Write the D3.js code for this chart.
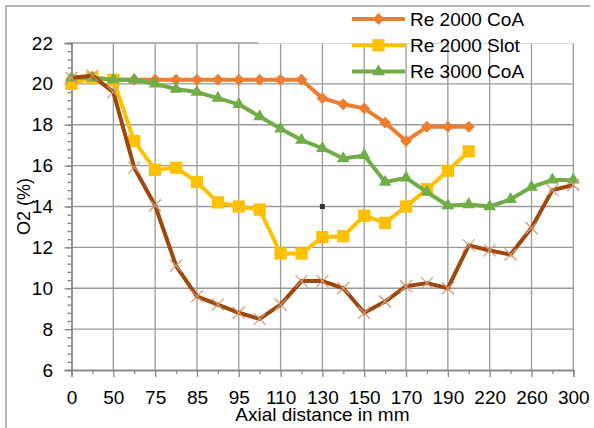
<!DOCTYPE html>
<html>
<head>
<meta charset="utf-8">
<script src="https://cdn.jsdelivr.net/npm/d3@7"></script>
<style>
  html, body { margin: 0; padding: 0; background: #fff; }
  svg text { font-family: "Liberation Sans", Arial, sans-serif; fill: #000; }
</style>
</head>
<body>
<main></main>
<script>
// axial positions (mm) - only every second one is labelled on the axis
var categories = ['0', '25', '50', '65', '75', '80', '85', '90', '95', '100', '110', '120', '130',
                  '140', '150', '160', '170', '180', '190', '200', '220', '240', '260', '280', '300']

var re2000CoA = [20.2, 20.3, 20.2, 20.2, 20.2, 20.2, 20.2, 20.2, 20.2, 20.2, 20.2, 20.2, 19.3,
                 19.0, 18.8, 18.1, 17.2, 17.9, 17.9, 17.9, null, null, null, null, null]
var re2000Slot = [20.0, 20.3, 20.2, 17.2, 15.8, 15.9, 15.2, 14.2, 14.0, 13.85, 11.7, 11.7, 12.5,
                  12.55, 13.55, 13.2, 14.0, 14.85, 15.75, 16.7, null, null, null, null, null]
var re3000CoA = [20.3, 20.3, 20.2, 20.2, 20.0, 19.75, 19.6, 19.3, 19.0, 18.4, 17.8, 17.25, 16.85,
                 16.35, 16.5, 15.2, 15.4, 14.7, 14.05, 14.1, 14.0, 14.35, 14.95, 15.3, 15.3]
var re3000Slot = [20.3, 20.4, 19.6, 15.9, 14.05, 11.1, 9.6, 9.2, 8.8, 8.5, 9.2, 10.35, 10.35,
                  10.0, 8.8, 9.35, 10.1, 10.25, 10.0, 12.1, 11.85, 11.65, 12.95, 14.8, 15.05]

var yTicks = [6, 8, 10, 12, 14, 16, 18, 20, 22]
var legendNames = ['Re 2000 CoA', 'Re 2000 Slot', 'Re 3000 CoA']
// stray mark left in the plot (at 130 mm, 14 %)
var strayPoint = ['130', 14]

var width = 594
var height = 428
// plot box (window.top is reserved, so prefix the names)
var plotLeft = 71.5, plotRight = 573.3, plotTop = 43, plotBottom = 370

var svg = d3.select('main')
    .append('svg')
    .attr('width', width)
    .attr('height', height)

var x = d3.scalePoint().domain(categories).range([plotLeft, plotRight])
var y = d3.scaleLinear().domain([6, 22]).range([plotBottom, plotTop])

// outer chart border (only left and top are in frame)
svg.append('path')
    .attr('d', 'M6,' + height + 'V6H590')
    .attr('fill', 'none')
    .attr('stroke', '#a0a0a0')
    .attr('stroke-width', 1.5)

// grid
var grid = svg.append('g').attr('class', 'grid')
grid.selectAll('line.h')
    .data(yTicks.filter(function (d) { return d > 6 }))
    .enter()
    .append('line')
    .attr('class', 'h')
    .attr('x1', plotLeft).attr('x2', plotRight)
    .attr('y1', function (d) { return y(d) }).attr('y2', function (d) { return y(d) })
    .attr('stroke', '#9a9a9a').attr('stroke-width', 1.3)
grid.selectAll('line.v')
    .data(categories.filter(function (d, i) { return i > 0 && i % 2 === 0 }))
    .enter()
    .append('line')
    .attr('class', 'v')
    .attr('x1', function (d) { return x(d) }).attr('x2', function (d) { return x(d) })
    .attr('y1', plotTop).attr('y2', plotBottom)
    .attr('stroke', '#9a9a9a').attr('stroke-width', 1.3)

// legend box hides the end of the top gridline
svg.append('rect')
    .attr('x', 258).attr('y', 8)
    .attr('width', 330).attr('height', 35.5)
    .attr('fill', '#fff')

// axes: major + minor ticks
var yMinor = d3.range(6, 22.001, 0.4).map(function (d) { return +d.toFixed(1) })
svg.append('g')
    .attr('transform', 'translate(' + plotLeft + ',0)')
    .call(d3.axisLeft(y).tickValues(yMinor).tickSize(4).tickFormat(''))
svg.append('g')
    .attr('class', 'y-axis')
    .attr('transform', 'translate(' + plotLeft + ',0)')
    .call(d3.axisLeft(y).tickValues(yTicks).tickSize(7).tickPadding(11.5))

svg.append('g')
    .attr('transform', 'translate(0,' + plotBottom + ')')
    .call(d3.axisBottom(x).tickValues(categories.filter(function (d, i) { return i % 2 === 1 })).tickSize(4).tickFormat(''))
svg.append('g')
    .attr('class', 'x-axis')
    .attr('transform', 'translate(0,' + plotBottom + ')')
    .call(d3.axisBottom(x).tickValues(categories.filter(function (d, i) { return i % 2 === 0 })).tickSize(7).tickPadding(14))

svg.selectAll('.domain, .tick line')
    .attr('stroke', '#868686')
    .attr('stroke-width', 1.3)
svg.selectAll('.tick text')
    .style('font-size', '19px')

// axis titles
svg.append('text')
    .attr('x', (plotLeft + plotRight) / 2)
    .attr('y', 421)
    .attr('text-anchor', 'middle')
    .style('font-size', '19px')
    .text('Axial distance in mm')
svg.append('text')
    .attr('transform', 'translate(30,' + (plotTop + plotBottom) / 2 + ') rotate(-90)')
    .attr('text-anchor', 'middle')
    .style('font-size', '18px')
    .text('O2 (%)')

svg.append('rect')
    .attr('x', x(strayPoint[0]) - 2.5)
    .attr('y', y(strayPoint[1]) - 2.5)
    .attr('width', 5).attr('height', 5)
    .attr('fill', '#333')

// series
var diamond = d3.symbol().type(d3.symbolSquare).size(70)()
var square = d3.symbol().type(d3.symbolSquare).size(150)()
var triangle = d3.symbol().type(d3.symbolTriangle).size(70)()
var cross = 'M-6,-6L6,6M-6,6L6,-6'

var series = [
    { values: re2000CoA, color: '#ED7D31', marker: diamond, rotate: 45, fill: '#ED7D31', stroke: 'none' },
    { values: re2000Slot, color: '#FFC000', marker: square, rotate: 0, fill: '#FFC000', stroke: 'none' },
    { values: re3000CoA, color: '#70AD47', marker: triangle, rotate: 0, fill: '#70AD47', stroke: 'none' },
    { values: re3000Slot, color: '#9E480E', marker: cross, rotate: 0, fill: 'none', stroke: '#D09874' }
]

var line = d3.line()
    .defined(function (d) { return d != null })
    .x(function (d, i) { return x(categories[i]) })
    .y(function (d) { return y(d) })

series.forEach(function (s) {
    var g = svg.append('g')
    g.append('path')
        .attr('d', line(s.values))
        .attr('fill', 'none')
        .attr('stroke', s.color)
        .attr('stroke-width', 4)
        .attr('stroke-linejoin', 'round')
    g.selectAll('path.m')
        .data(s.values.map(function (v, i) { return [categories[i], v] }).filter(function (d) { return d[1] != null }))
        .enter()
        .append('path')
        .attr('class', 'm')
        .attr('d', s.marker)
        .attr('transform', function (d) { return 'translate(' + x(d[0]) + ',' + y(d[1]) + ') rotate(' + s.rotate + ')' })
        .attr('fill', s.fill)
        .attr('stroke', s.stroke)
        .attr('stroke-width', 1.2)
})

// legend (first three series only)
var legend = svg.append('g')
    .selectAll('g')
    .data(legendNames)
    .enter()
    .append('g')
    .attr('transform', function (d, i) { return 'translate(0,' + (19 + i * 26.3) + ')' })
legend.append('line')
    .attr('x1', 352).attr('x2', 405)
    .attr('stroke', function (d, i) { return series[i].color })
    .attr('stroke-width', 4)
legend.append('path')
    .attr('d', function (d, i) { return series[i].marker })
    .attr('transform', function (d, i) { return 'translate(378.5,0) rotate(' + series[i].rotate + ')' })
    .attr('fill', function (d, i) { return series[i].fill })
legend.append('text')
    .attr('x', 410)
    .attr('dy', '0.35em')
    .style('font-size', '19px')
    .text(function (d) { return d })
</script>
</body>
</html>
